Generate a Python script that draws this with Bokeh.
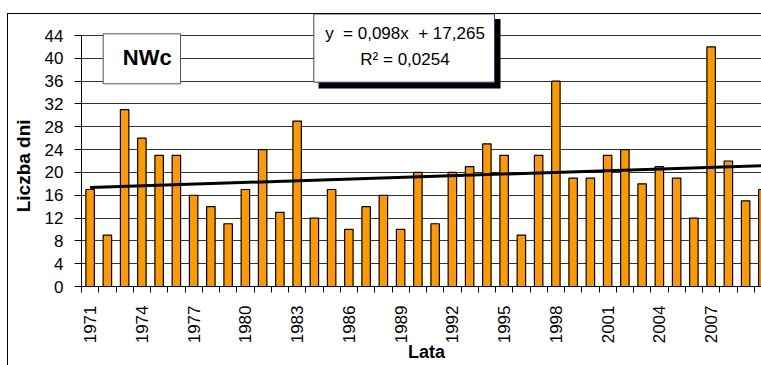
import math

from bokeh.plotting import figure
from bokeh.models import Range1d, FixedTicker, Label, BoxAnnotation, InlineStyleSheet
from bokeh.embed import file_html
from bokeh.resources import INLINE

# --- data -------------------------------------------------------------
years = list(range(1971, 2011))
days = [17, 9, 31, 26, 23, 23, 16, 14, 11, 17,
        24, 13, 29, 12, 17, 10, 14, 16, 10, 20,
        11, 20, 21, 25, 23, 9, 23, 36, 19, 19,
        23, 24, 18, 21, 19, 12, 42, 22, 15, 17]
label_years = list(range(1971, 2011, 3))
y_ticks = list(range(0, 45, 4))

# linear trend y = a*x + b, x = 1..n
slope = 0.098
intercept = 17.265
r_squared = "0,0254"

# --- layout ------------------------------------------------------------
W, H = 761, 365
FRAME_L, FRAME_T, FRAME_B = 81, 13, 286
PX_PER_YEAR = 17.25
GRID44_PX = 35

x_start = 1970.5
x_end = x_start + (W - FRAME_L) / PX_PER_YEAR
y_top = 44 * (FRAME_B - FRAME_T) / (FRAME_B - GRID44_PX)


def xd(px):
    return x_start + (px - FRAME_L) / PX_PER_YEAR


def yd(py):
    return (FRAME_B - py) * y_top / (FRAME_B - FRAME_T)


FONT = "Liberation Sans"
NBSP = "\u00a0"

# thin chart-area border (left and top edges) drawn over the canvas
chart_border = InlineStyleSheet(css="""
:host { position: relative; }
:host::after {
  content: "";
  position: absolute;
  left: 7px; top: 13px; right: 0; bottom: 0;
  border-left: 1px solid #000;
  border-top: 1px solid #000;
  pointer-events: none;
}
""")

p = figure(width=W, height=H,
           x_range=Range1d(x_start, x_end), y_range=Range1d(0, y_top),
           output_backend="svg", toolbar_location=None,
           min_border_left=FRAME_L, min_border_right=0,
           min_border_top=FRAME_T, min_border_bottom=H - FRAME_B,
           outline_line_color=None,
           background_fill_color="white", border_fill_color="white",
           stylesheets=[chart_border])

# bars
p.vbar(x=years, top=days, width=0.49,
       fill_color="#FF9900", line_color="black", line_width=1.2)

# trend line
n = len(years)
p.line(x=[years[0], years[-1]],
       y=[slope * 1 + intercept, slope * n + intercept],
       line_color="black", line_width=3)

# grid
p.xgrid.visible = False
p.ygrid.ticker = FixedTicker(ticks=y_ticks)
p.ygrid.grid_line_color = "#333333"
p.ygrid.grid_line_width = 1

# y axis
p.yaxis.ticker = FixedTicker(ticks=y_ticks)
p.yaxis.bounds = (0, 44)
p.yaxis.major_tick_out = 7
p.yaxis.major_tick_in = 0
p.yaxis.minor_tick_out = 0
p.yaxis.minor_tick_in = 0
p.yaxis.major_label_standoff = 11
p.yaxis.major_label_text_font = FONT
p.yaxis.major_label_text_font_size = "17px"
p.yaxis.major_label_text_color = "black"
p.yaxis.axis_line_color = "black"
p.yaxis.major_tick_line_color = "black"
p.yaxis.axis_label = "Liczba dni" + NBSP * 6
p.yaxis.axis_label_text_font = FONT
p.yaxis.axis_label_text_font_style = "bold"
p.yaxis.axis_label_text_font_size = "19px"
p.yaxis.axis_label_text_color = "black"
p.yaxis.axis_label_standoff = 8

# x axis: labels at every third year, ticks between categories
p.xaxis.ticker = FixedTicker(ticks=label_years,
                             minor_ticks=[y - 0.5 for y in years] + [years[-1] + 0.5])
p.xaxis.major_label_overrides = {y: str(y) for y in label_years}
p.xaxis.major_tick_out = 0
p.xaxis.major_tick_in = 0
p.xaxis.minor_tick_out = 6
p.xaxis.minor_tick_in = 0
p.xaxis.minor_tick_line_color = "black"
p.xaxis.major_label_orientation = math.pi / 2
p.xaxis.major_label_standoff = 13
p.xaxis.major_label_text_font = FONT
p.xaxis.major_label_text_font_size = "17px"
p.xaxis.major_label_text_color = "black"
p.xaxis.axis_line_color = "black"
p.xaxis.axis_label = NBSP * 2 + "Lata"
p.xaxis.axis_label_text_font = FONT
p.xaxis.axis_label_text_font_style = "bold"
p.xaxis.axis_label_text_font_size = "18px"
p.xaxis.axis_label_text_color = "black"
p.xaxis.axis_label_standoff = -4

# region name box
p.add_layout(BoxAnnotation(left=xd(102.7), right=xd(180),
                           top=yd(33.3), bottom=yd(83.3),
                           fill_color="white", fill_alpha=1,
                           line_color="#555555", line_alpha=1, line_width=1))
p.add_layout(Label(x=xd(146.7), y=yd(57), text="NWc",
                   text_align="center", text_baseline="middle",
                   text_font=FONT, text_font_style="bold",
                   text_font_size="22px", text_color="black"))

# trend equation box with shadow
p.add_layout(BoxAnnotation(left=xd(318), right=xd(500),
                           top=yd(18.5), bottom=yd(88),
                           fill_color="black", fill_alpha=1,
                           line_color=None))
p.add_layout(BoxAnnotation(left=xd(313.3), right=xd(494),
                           top=yd(13.5), bottom=yd(81.7),
                           fill_color="white", fill_alpha=1,
                           line_color="#3c3c8c", line_alpha=1, line_width=1))
slope_txt = f"{slope:.3f}".replace(".", ",")
intercept_txt = f"{intercept:.3f}".replace(".", ",")
p.add_layout(Label(x=xd(404.5), y=yd(32.5),
                   text=f"y {NBSP}= {slope_txt}x {NBSP}+ {intercept_txt}",
                   text_align="center", text_baseline="middle",
                   text_font=FONT, text_font_size="17px", text_color="black"))
p.add_layout(Label(x=xd(404.5), y=yd(59),
                   text="R\u00b2 = " + r_squared,
                   text_align="center", text_baseline="middle",
                   text_font=FONT, text_font_size="17px", text_color="black"))

open("out.html", "w").write(file_html(p, INLINE))
